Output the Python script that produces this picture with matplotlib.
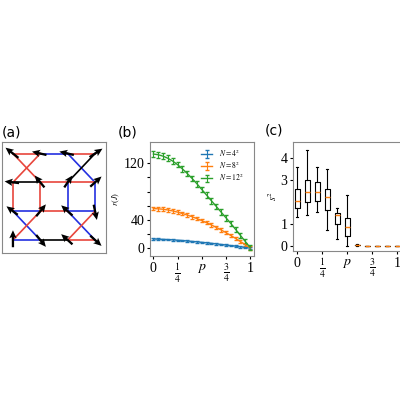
import matplotlib
matplotlib.use("Agg")
import matplotlib.pyplot as plt
import numpy as np

plt.rcParams['font.family'] = ['Liberation Serif', 'DejaVu Serif']
plt.rcParams['mathtext.fontset'] = 'stix'

# ---- panel (b) data
p_vals = [0, .05, .1, .15, .2, .25, .3, .35, .4, .45, .5, .55, .6, .65, .7, .75, .8, .85, .9, .95, 1.0]
r_16 = [13, 12.8, 12.5, 12.2, 11.8, 11.3, 10.8, 10.2, 9.6, 9.0, 8.3, 7.6, 6.9, 6.1, 5.3, 4.5, 3.7, 2.9, 2.0, 1.1, 0.2]
r_64 = [56, 55.6, 55, 54, 52.6, 51, 49, 46.8, 44.4, 41.8, 39, 36, 32.8, 29.4, 25.8, 22, 18, 13.8, 9.4, 5, 0.5]
r_144 = [133, 132, 130, 127, 123, 118, 112, 105.5, 98.5, 91, 83, 75, 67, 59, 51, 43, 35, 26.5, 18, 9.5, 1]
err_16 = [1.0] * 21
err_64 = [2.5] * 21
err_144 = [4.0] * 21

# ---- panel (c) data
box_pos = [0, .1, .2, .3, .4, .5, .6, .7, .8, .9, 1.0]
box_lo = [1.3, 1.4, 1.55, 0.7, 0.3, 0.0, 0.0, 0, 0, 0, 0]
box_q1 = [1.7, 2.0, 2.05, 1.65, 1.0, 0.45, 0.01, 0, 0, 0, 0]
box_med = [2.05, 2.45, 2.45, 2.25, 1.4, 0.85, 0.03, 0, 0, 0, 0]
box_q3 = [2.6, 3.0, 2.9, 2.6, 1.5, 1.25, 0.04, 0, 0, 0, 0]
box_hi = [3.6, 4.4, 3.6, 3.5, 1.7, 2.3, 0.06, 0, 0, 0, 0]

# ---- panel (a) data (lattice)
edges = [  # (x1,y1,x2,y2,color)
    (0, 3, 1, 3, 'r'), (1, 3, 2, 3, 'b'), (2, 3, 3, 3, 'r'),
    (0, 3, 1, 2, 'r'), (1, 3, 0, 2, 'r'), (2, 3, 3, 2, 'b'), (3, 3, 2, 2, 'k'),
    (0, 2, 1, 2, 'k'), (1, 2, 2, 2, 'r'), (2, 2, 3, 2, 'r'),
    (0, 2, 0, 1, 'r'), (1, 2, 1, 1, 'r'), (2, 2, 2, 1, 'b'), (3, 2, 3, 1, 'b'),
    (0, 1, 1, 1, 'b'), (1, 1, 2, 1, 'r'), (2, 1, 3, 1, 'b'),
    (0, 1, 1, 0, 'b'), (1, 1, 0, 0, 'r'), (2, 1, 3, 0, 'b'), (3, 1, 2, 0, 'r'),
    (0, 0, 1, 0, 'b'), (1, 0, 2, 0, 'k'), (2, 0, 3, 0, 'r'),
]
arrow_u = [-0.8, -0.9, -0.9, 0.8, -0.9, -0.6, 0.5, 0.7, -0.7, 0.6, -0.7, 0.2, 0.0, 0.6, -0.7, 0.7]
arrow_v = [0.6, 0.2, 0.2, 0.5, 0.1, 0.7, 0.7, 0.6, 0.5, 0.7, 0.6, -0.9, 1.0, -0.7, 0.6, -0.6]

fig = plt.figure(figsize=(4, 4), dpi=100)
colmap = {'r': '#e8463c', 'b': '#2430e0', 'k': 'black'}

# (a)
axa = fig.add_axes([2/400, 1-253/400, 104/400, 111/400])
for x1, y1, x2, y2, c in edges:
    axa.plot([x1, x2], [y1, y2], color=colmap[c], lw=1.2, zorder=1)
xs, ys = [], []
for yy in [3, 2, 1, 0]:
    for xx in [0, 1, 2, 3]:
        xs.append(xx); ys.append(yy)
u = np.array(arrow_u); v = np.array(arrow_v)
axa.quiver(np.array(xs) - 0.25*u, np.array(ys) - 0.25*v,
           u, v, angles='xy', scale_units='xy', scale=1.7,
           width=0.022, headwidth=3.2, headlength=3.5, headaxislength=3,
           color='black', zorder=3)
axa.set_xlim(-0.4, 3.4); axa.set_ylim(-0.45, 3.4)
axa.set_xticks([]); axa.set_yticks([])
for s in axa.spines.values():
    s.set_color('#888888')
fig.text(2/400, 1-133/400, '(a)', fontsize=10, family='DejaVu Sans', va='center')

# (b)
axb = fig.add_axes([150/400, 1-256/400, 104/400, 114/400])
for r, e, c, lab in [(r_16, err_16, '#1f77b4', r'$N=4^2$'),
                     (r_64, err_64, '#ff7f0e', r'$N=8^2$'),
                     (r_144, err_144, '#2ca02c', r'$N=12^2$')]:
    axb.errorbar(p_vals, r, yerr=e, color=c, lw=1, capsize=1.5, elinewidth=0.8, label=lab)
axb.set_xlim(-0.035, 1.04); axb.set_ylim(-11, 150)
axb.set_yticks([0, 20, 40, 60, 80, 100, 120])
axb.set_yticklabels(['0', '', '40', '', '', '', '120'])
axb.set_xticks([0, .25, .5, .75, 1])
axb.set_xticklabels(['0', r'$\frac{1}{4}$', r'$p$', r'$\frac{3}{4}$', '1'])
axb.set_ylabel(r'$r(J)$', fontsize=6, labelpad=1)
axb.tick_params(labelsize=10, length=2.5, pad=1.5)
axb.legend(fontsize=5.5, loc='upper right', frameon=False, handlelength=1.5,
           borderpad=0.2, labelspacing=0.1, bbox_to_anchor=(0.95, 1.0))
for s in axb.spines.values():
    s.set_color('#888888')
fig.text(118/400, 1-133/400, '(b)', fontsize=10, family='DejaVu Sans', va='center')

# (c)
axc = fig.add_axes([293/400, 1-251/400, 110/400, 109/400])
stats = [dict(whislo=a, q1=b, med=c, q3=d, whishi=e, fliers=[])
         for a, b, c, d, e in zip(box_lo, box_q1, box_med, box_q3, box_hi)]
axc.bxp(stats, positions=box_pos, widths=0.05, showfliers=False,
        boxprops=dict(color='black', lw=0.8), whiskerprops=dict(color='black', lw=0.8),
        capprops=dict(color='black', lw=0.8), medianprops=dict(color='#ff7f0e', lw=1))
axc.set_xlim(-0.04, 1.06); axc.set_ylim(-0.25, 4.75)
axc.set_yticks([0, 1, 3, 4])
axc.set_xticks([0, .25, .5, .75, 1])
axc.set_xticklabels(['0', r'$\frac{1}{4}$', r'$p$', r'$\frac{3}{4}$', '1'])
axc.set_ylabel(r'$s^2$', fontsize=7, labelpad=1)
axc.tick_params(labelsize=10, length=2.5, pad=1.5)
for s in axc.spines.values():
    s.set_color('#888888')
fig.text(265/400, 1-130/400, '(c)', fontsize=10, family='DejaVu Sans', va='center')

fig.savefig('out.png', dpi=100)
